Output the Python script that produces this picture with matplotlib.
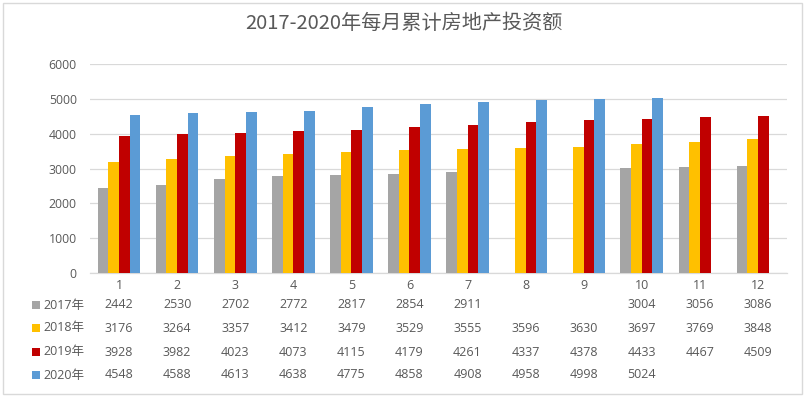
import numpy as np
import matplotlib
matplotlib.use("Agg")
import matplotlib.pyplot as plt
from matplotlib.transforms import blended_transform_factory
from matplotlib.patches import Rectangle

months = list(range(1, 13))
month_labels = [str(m) for m in months]
series_names = ["2017年", "2018年", "2019年", "2020年"]
v2017 = [2442, 2530, 2702, 2772, 2817, 2854, 2911, None, None, 3004, 3056, 3086]
v2018 = [3176, 3264, 3357, 3412, 3479, 3529, 3555, 3596, 3630, 3697, 3769, 3848]
v2019 = [3928, 3982, 4023, 4073, 4115, 4179, 4261, 4337, 4378, 4433, 4467, 4509]
v2020 = [4548, 4588, 4613, 4638, 4775, 4858, 4908, 4958, 4998, 5024, None, None]
colors = ["#A5A5A5", "#FFC000", "#C00000", "#5B9BD5"]
title = "2017-2020年每月累计房地产投资额"
yticks = [0, 1000, 2000, 3000, 4000, 5000, 6000]

W, H = 807, 399
fig = plt.figure(figsize=(W / 100, H / 100), dpi=100)
fig.patch.set_facecolor("white")

FONT = ["Open Sans", "Noto Sans CJK SC"]
TXT = "#595959"

# chart border
fig.patches.append(Rectangle((3 / W, 1 - 394 / H), 799 / W, 391 / H,
                             transform=fig.transFigure, fill=False,
                             edgecolor="#d9d9d9", lw=1.0))

left, right, top, bottom = 90, 787, 64, 273
ax = fig.add_axes([left / W, 1 - bottom / H, (right - left) / W, (bottom - top) / H])

all_series = [v2017, v2018, v2019, v2020]
bw = 0.184
x = np.array(months, dtype=float)
for i, (vals, c) in enumerate(zip(all_series, colors)):
    h = np.array([np.nan if v is None else v for v in vals], dtype=float)
    ax.bar(x + (i - 1.5) * bw, h, width=bw, color=c, zorder=3)

ax.set_xlim(0.5, 12.5)
ax.set_ylim(0, 6000)
ax.set_yticks(yticks)
ax.set_yticklabels([str(t) for t in yticks], fontfamily=FONT, fontsize=8.8, color=TXT)
ax.set_xticks(months)
ax.set_xticklabels(month_labels, fontfamily=FONT, fontsize=9, color=TXT)
ax.tick_params(axis="both", length=0)
ax.tick_params(axis="y", pad=9.5)
ax.tick_params(axis="x", pad=4)
ax.grid(axis="y", color="#d9d9d9", lw=0.9, zorder=0)
for s in ["top", "right", "left"]:
    ax.spines[s].set_visible(False)
ax.spines["bottom"].set_color("#d9d9d9")
ax.spines["bottom"].set_linewidth(0.9)

fig.text(0.5, 1 - 23 / H, title, ha="center", va="center",
         fontfamily=["Noto Sans CJK SC"], fontsize=14.5, color=TXT)

# data table
tr = blended_transform_factory(ax.transData, fig.transFigure)
row_y = [305, 328, 352, 375]
for name, vals, c, yp in zip(series_names, all_series, colors, row_y):
    yf = 1 - yp / H
    fig.patches.append(Rectangle((32 / W, yf - 4 / H), 8 / W, 8 / H,
                                 transform=fig.transFigure, color=c, lw=0))
    fig.text(43 / W, yf, name, ha="left", va="center", fontfamily=FONT,
             fontsize=9, color=TXT)
    for m, v in zip(months, vals):
        if v is None:
            continue
        ax.text(m, yf, str(v), transform=tr, ha="center", va="center",
                fontfamily=FONT, fontsize=9, color=TXT)

fig.savefig("out.png", dpi=100, facecolor="white")
